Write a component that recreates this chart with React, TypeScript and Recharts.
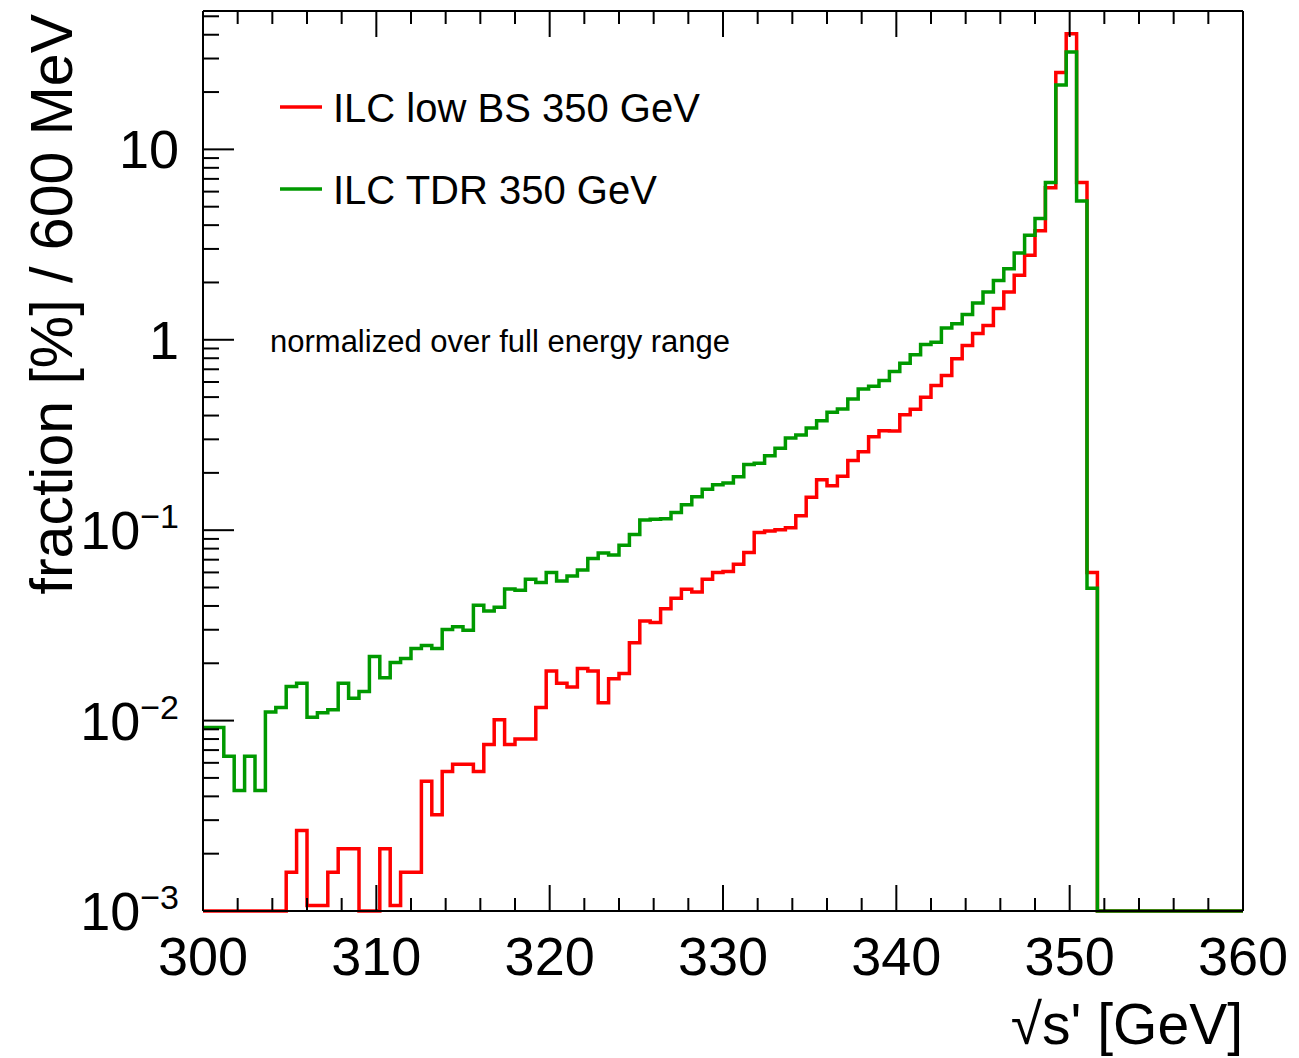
import React from "react";
import { LineChart, Line, XAxis, YAxis } from "recharts";

// histogram bins: 600 MeV wide, 300..360 GeV
const X_MIN = 300;
const X_MAX = 360;
const BIN_WIDTH = 0.6;

// fraction [%] per bin, ILC low BS 350 GeV (empty bins sit on the 1e-3 floor)
const LOW_BS = [
  0.001, 0.001, 0.001, 0.001, 0.001, 0.001, 0.001, 0.001, 0.0016, 0.00265,
  0.00107, 0.00107, 0.0016, 0.00212, 0.00212, 0.001, 0.001, 0.00212, 0.00107, 0.0016,
  0.0016, 0.0048, 0.0032, 0.0054, 0.0059, 0.0059, 0.0054, 0.0075, 0.0101, 0.0075,
  0.008, 0.008, 0.0117, 0.0182, 0.0157, 0.015, 0.0188, 0.0182, 0.0124, 0.0166,
  0.0177, 0.0256, 0.0333, 0.0327, 0.0387, 0.0439, 0.049, 0.0474, 0.0552, 0.0599,
  0.0606, 0.0663, 0.0763, 0.0972, 0.099, 0.1005, 0.103, 0.119, 0.149, 0.184,
  0.171, 0.192, 0.232, 0.258, 0.31, 0.333, 0.332, 0.404, 0.432, 0.499,
  0.575, 0.649, 0.794, 0.933, 1.08, 1.19, 1.46, 1.78, 2.18, 2.78,
  3.74, 6.28, 25.3, 40.5, 6.7, 0.0599, 0.001, 0.001, 0.001, 0.001,
  0.001, 0.001, 0.001, 0.001, 0.001, 0.001, 0.001, 0.001, 0.001, 0.001,
];

// ILC TDR 350 GeV
const TDR = [
  0.0092, 0.0092, 0.0065, 0.0043, 0.0065, 0.0043, 0.0111, 0.0117, 0.0151, 0.0157,
  0.0104, 0.011, 0.0114, 0.0157, 0.0131, 0.0142, 0.0217, 0.0168, 0.0202, 0.0212,
  0.0239, 0.0248, 0.0239, 0.0301, 0.0311, 0.0298, 0.0404, 0.0376, 0.0394, 0.0491,
  0.0483, 0.0552, 0.0531, 0.0599, 0.0541, 0.0575, 0.0618, 0.071, 0.076, 0.0741,
  0.0834, 0.0948, 0.113, 0.114, 0.115, 0.124, 0.136, 0.15, 0.164, 0.173,
  0.177, 0.191, 0.221, 0.225, 0.246, 0.269, 0.305, 0.316, 0.344, 0.376,
  0.416, 0.433, 0.489, 0.552, 0.57, 0.611, 0.681, 0.754, 0.834, 0.945,
  0.972, 1.153, 1.214, 1.358, 1.56, 1.78, 2.05, 2.36, 2.86, 3.54,
  4.33, 6.7, 21.8, 32.5, 5.35, 0.0495, 0.001, 0.001, 0.001, 0.001,
  0.001, 0.001, 0.001, 0.001, 0.001, 0.001, 0.001, 0.001, 0.001, 0.001,
];

const X_TICKS = [
  300, 302, 304, 306, 308, 310, 312, 314, 316, 318, 320, 322, 324, 326, 328, 330,
  332, 334, 336, 338, 340, 342, 344, 346, 348, 350, 352, 354, 356, 358, 360,
];
const X_LABELS = [300, 310, 320, 330, 340, 350, 360];

const Y_TICKS = [
  0.001, 0.002, 0.003, 0.004, 0.005, 0.006, 0.007, 0.008, 0.009,
  0.01, 0.02, 0.03, 0.04, 0.05, 0.06, 0.07, 0.08, 0.09,
  0.1, 0.2, 0.3, 0.4, 0.5, 0.6, 0.7, 0.8, 0.9,
  1, 2, 3, 4, 5, 6, 7, 8, 9,
  10, 20, 30, 40, 50,
];
const Y_DECADES = [0.001, 0.01, 0.1, 1, 10];
const Y_EXPONENTS = ["−3", "−2", "−1", "", ""];
const Y_BASES = ["10", "10", "10", "1", "10"];
const Y_MAX = 53.3;

const FONT = "'Liberation Sans', Arial, Helvetica, sans-serif";
const RED = "#ff0000";
const GREEN = "#009900";

const data = LOW_BS.map((v, i) => ({
  x: +(X_MIN + i * BIN_WIDTH).toFixed(1),
  lowBS: v,
  tdr: TDR[i],
}));
// close the last bin at the upper edge
data.push({ x: X_MAX, lowBS: LOW_BS[LOW_BS.length - 1], tdr: TDR[TDR.length - 1] });

const isMajorX = (v: number) => X_LABELS.includes(v);
const decadeIndex = (v: number) => Y_DECADES.findIndex((d) => Math.abs(d - v) / d < 1e-6);

// ROOT style: ticks point into the frame
const BottomTick = (props: any) => {
  const { x, y, payload } = props;
  const major = isMajorX(payload.value);
  return (
    <g>
      <line x1={x} x2={x} y1={y} y2={y - (major ? 26 : 13)} stroke="#000" strokeWidth={2} />
      {major && (
        <text x={x} y={y + 64} textAnchor="middle" fontSize={54} fontFamily={FONT} fill="#000">
          {payload.value}
        </text>
      )}
    </g>
  );
};

const TopTick = (props: any) => {
  const { x, y, payload } = props;
  const major = isMajorX(payload.value);
  return <line x1={x} x2={x} y1={y} y2={y + (major ? 26 : 13)} stroke="#000" strokeWidth={2} />;
};

const LeftTick = (props: any) => {
  const { x, y, payload } = props;
  const idx = decadeIndex(payload.value);
  const major = idx >= 0;
  return (
    <g>
      <line x1={x} x2={x + (major ? 31 : 16)} y1={y} y2={y} stroke="#000" strokeWidth={2} />
      {major && (
        <text x={x - 24} y={y + 19} textAnchor="end" fontSize={54} fontFamily={FONT} fill="#000">
          {Y_BASES[idx]}
          {Y_EXPONENTS[idx] && (
            <tspan dy={-21} fontSize={34}>
              {Y_EXPONENTS[idx]}
            </tspan>
          )}
        </text>
      )}
    </g>
  );
};

const RightTick = (props: any) => {
  const { x, y, payload } = props;
  const major = decadeIndex(payload.value) >= 0;
  return <line x1={x} x2={x - (major ? 31 : 16)} y1={y} y2={y} stroke="#000" strokeWidth={2} />;
};

const frame = { stroke: "#000", strokeWidth: 2 };

export default function App() {
  return (
    <div style={{ position: "absolute", left: 0, top: 0, width: 1299, height: 1058, background: "#fff" }}>
      <LineChart
        width={1299}
        height={1058}
        data={data}
        margin={{ top: 10, right: 55, bottom: 146, left: 202 }}
      >
        <XAxis
          xAxisId="b"
          dataKey="x"
          type="number"
          domain={[X_MIN, X_MAX]}
          ticks={X_TICKS}
          interval={0}
          height={1}
          tickSize={0}
          tickMargin={0}
          tick={<BottomTick />}
          axisLine={frame}
          tickLine={false}
        />
        <XAxis
          xAxisId="t"
          orientation="top"
          dataKey="x"
          type="number"
          domain={[X_MIN, X_MAX]}
          ticks={X_TICKS}
          interval={0}
          height={1}
          tickSize={0}
          tickMargin={0}
          tick={<TopTick />}
          axisLine={frame}
          tickLine={false}
        />
        <YAxis
          yAxisId="l"
          scale="log"
          domain={[0.001, Y_MAX]}
          ticks={Y_TICKS}
          interval={0}
          width={1}
          tickSize={0}
          tickMargin={0}
          tick={<LeftTick />}
          axisLine={frame}
          tickLine={false}
        />
        <YAxis
          yAxisId="r"
          orientation="right"
          scale="log"
          domain={[0.001, Y_MAX]}
          ticks={Y_TICKS}
          interval={0}
          width={1}
          tickSize={0}
          tickMargin={0}
          tick={<RightTick />}
          axisLine={frame}
          tickLine={false}
        />
        <Line
          xAxisId="b"
          yAxisId="l"
          type="stepAfter"
          dataKey="lowBS"
          stroke={RED}
          strokeWidth={3.5}
          dot={false}
          isAnimationActive={false}
        />
        <Line
          xAxisId="b"
          yAxisId="l"
          type="stepAfter"
          dataKey="tdr"
          stroke={GREEN}
          strokeWidth={3.5}
          dot={false}
          isAnimationActive={false}
        />
      </LineChart>

      {/* titles, legend and note */}
      <svg
        width={1299}
        height={1058}
        style={{ position: "absolute", left: 0, top: 0, pointerEvents: "none" }}
        fontFamily={FONT}
      >
        <text
          x={72}
          y={14}
          fontSize={59}
          textAnchor="end"
          transform="rotate(-90 72 14)"
          fill="#000"
        >
          fraction [%] / 600 MeV
        </text>
        <text x={1243} y={1044} fontSize={57} textAnchor="end" fill="#000">
          √s' [GeV]
        </text>

        <line x1={280} x2={322} y1={107} y2={107} stroke={RED} strokeWidth={3.5} />
        <text x={333} y={122} fontSize={40} fill="#000">
          ILC low BS 350 GeV
        </text>
        <line x1={280} x2={322} y1={189} y2={189} stroke={GREEN} strokeWidth={3.5} />
        <text x={333} y={204} fontSize={40} fill="#000">
          ILC TDR 350 GeV
        </text>

        <text x={270} y={352} fontSize={31} fill="#000">
          normalized over full energy range
        </text>
      </svg>
    </div>
  );
}
